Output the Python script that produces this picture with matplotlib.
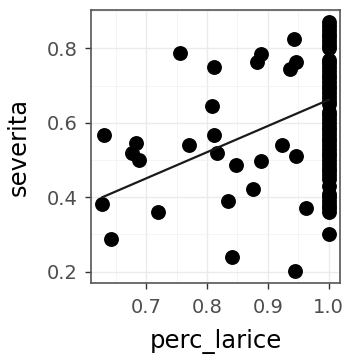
import numpy as np
import matplotlib
matplotlib.use("Agg")
import matplotlib.pyplot as plt
from matplotlib.ticker import MultipleLocator

# Data
perc_larice_scattered = [0.630, 0.628, 0.643, 0.684, 0.677, 0.688, 0.720, 0.755, 0.771,
                         0.812, 0.809, 0.811, 0.817, 0.834, 0.841, 0.847, 0.876, 0.882,
                         0.889, 0.888, 0.924, 0.936, 0.946, 0.943, 0.946, 0.944, 0.963]
severita_scattered = [0.568, 0.381, 0.287, 0.545, 0.520, 0.499, 0.361, 0.789, 0.541,
                      0.749, 0.646, 0.568, 0.520, 0.391, 0.240, 0.488, 0.422, 0.763,
                      0.786, 0.497, 0.541, 0.745, 0.764, 0.825, 0.511, 0.203, 0.370]
severita_full = [0.87, 0.86, 0.85, 0.84, 0.83, 0.82, 0.81, 0.80, 0.77, 0.76, 0.75, 0.74,
                 0.73, 0.72, 0.71, 0.70, 0.69, 0.68, 0.67, 0.66, 0.65, 0.63, 0.62, 0.61,
                 0.60, 0.59, 0.58, 0.57, 0.56, 0.55, 0.54, 0.53, 0.52, 0.51, 0.50, 0.49,
                 0.48, 0.47, 0.46, 0.45, 0.43, 0.41, 0.40, 0.39, 0.38, 0.37, 0.36, 0.30]

# linear fit shown in the reference (intercept, slope)
lm_intercept = -0.042
lm_slope = 0.704

x = np.array(perc_larice_scattered + [1.0] * len(severita_full))
y = np.array(severita_scattered + severita_full)

x_ticks = [0.7, 0.8, 0.9, 1.0]
y_ticks = [0.2, 0.4, 0.6, 0.8]

fig = plt.figure(figsize=(3.45, 3.58), dpi=100)
ax = fig.add_axes([91/345, 1 - 283/358, (340 - 91)/345, (283 - 10)/358])

ax.set_axisbelow(True)
ax.scatter(x, y, s=115, color="black", linewidths=0, zorder=3)

xl = np.array([x.min(), x.max()])
ax.plot(xl, lm_intercept + lm_slope * xl, color="#1a1a1a", lw=1.6, zorder=4)

xr = x.max() - x.min()
yr = y.max() - y.min()
ax.set_xlim(x.min() - 0.05 * xr, x.max() + 0.05 * xr)
ax.set_ylim(y.min() - 0.05 * yr, y.max() + 0.05 * yr)

ax.set_xticks(x_ticks)
ax.set_yticks(y_ticks)
ax.set_xticklabels([f"{t:.1f}" for t in x_ticks])
ax.set_yticklabels([f"{t:.1f}" for t in y_ticks])
ax.xaxis.set_minor_locator(MultipleLocator(0.05))
ax.yaxis.set_minor_locator(MultipleLocator(0.1))
ax.grid(which="major", color="#EBEBEB", lw=1.0)
ax.grid(which="minor", color="#F2F2F2", lw=0.6)
ax.tick_params(which="minor", length=0)
ax.tick_params(which="major", length=4.5, width=1, color="#333333",
               labelsize=14, labelcolor="#4D4D4D")
ax.tick_params(axis="x", pad=6)
ax.tick_params(axis="y", pad=5)
for sp in ax.spines.values():
    sp.set_color("#555555")
    sp.set_linewidth(1.2)

ax.set_xlabel("perc_larice", fontsize=17.5, color="black", labelpad=9)
ax.set_ylabel("severita", fontsize=17.5, color="black", labelpad=12)

fig.savefig("out.png", dpi=100, facecolor="white")
